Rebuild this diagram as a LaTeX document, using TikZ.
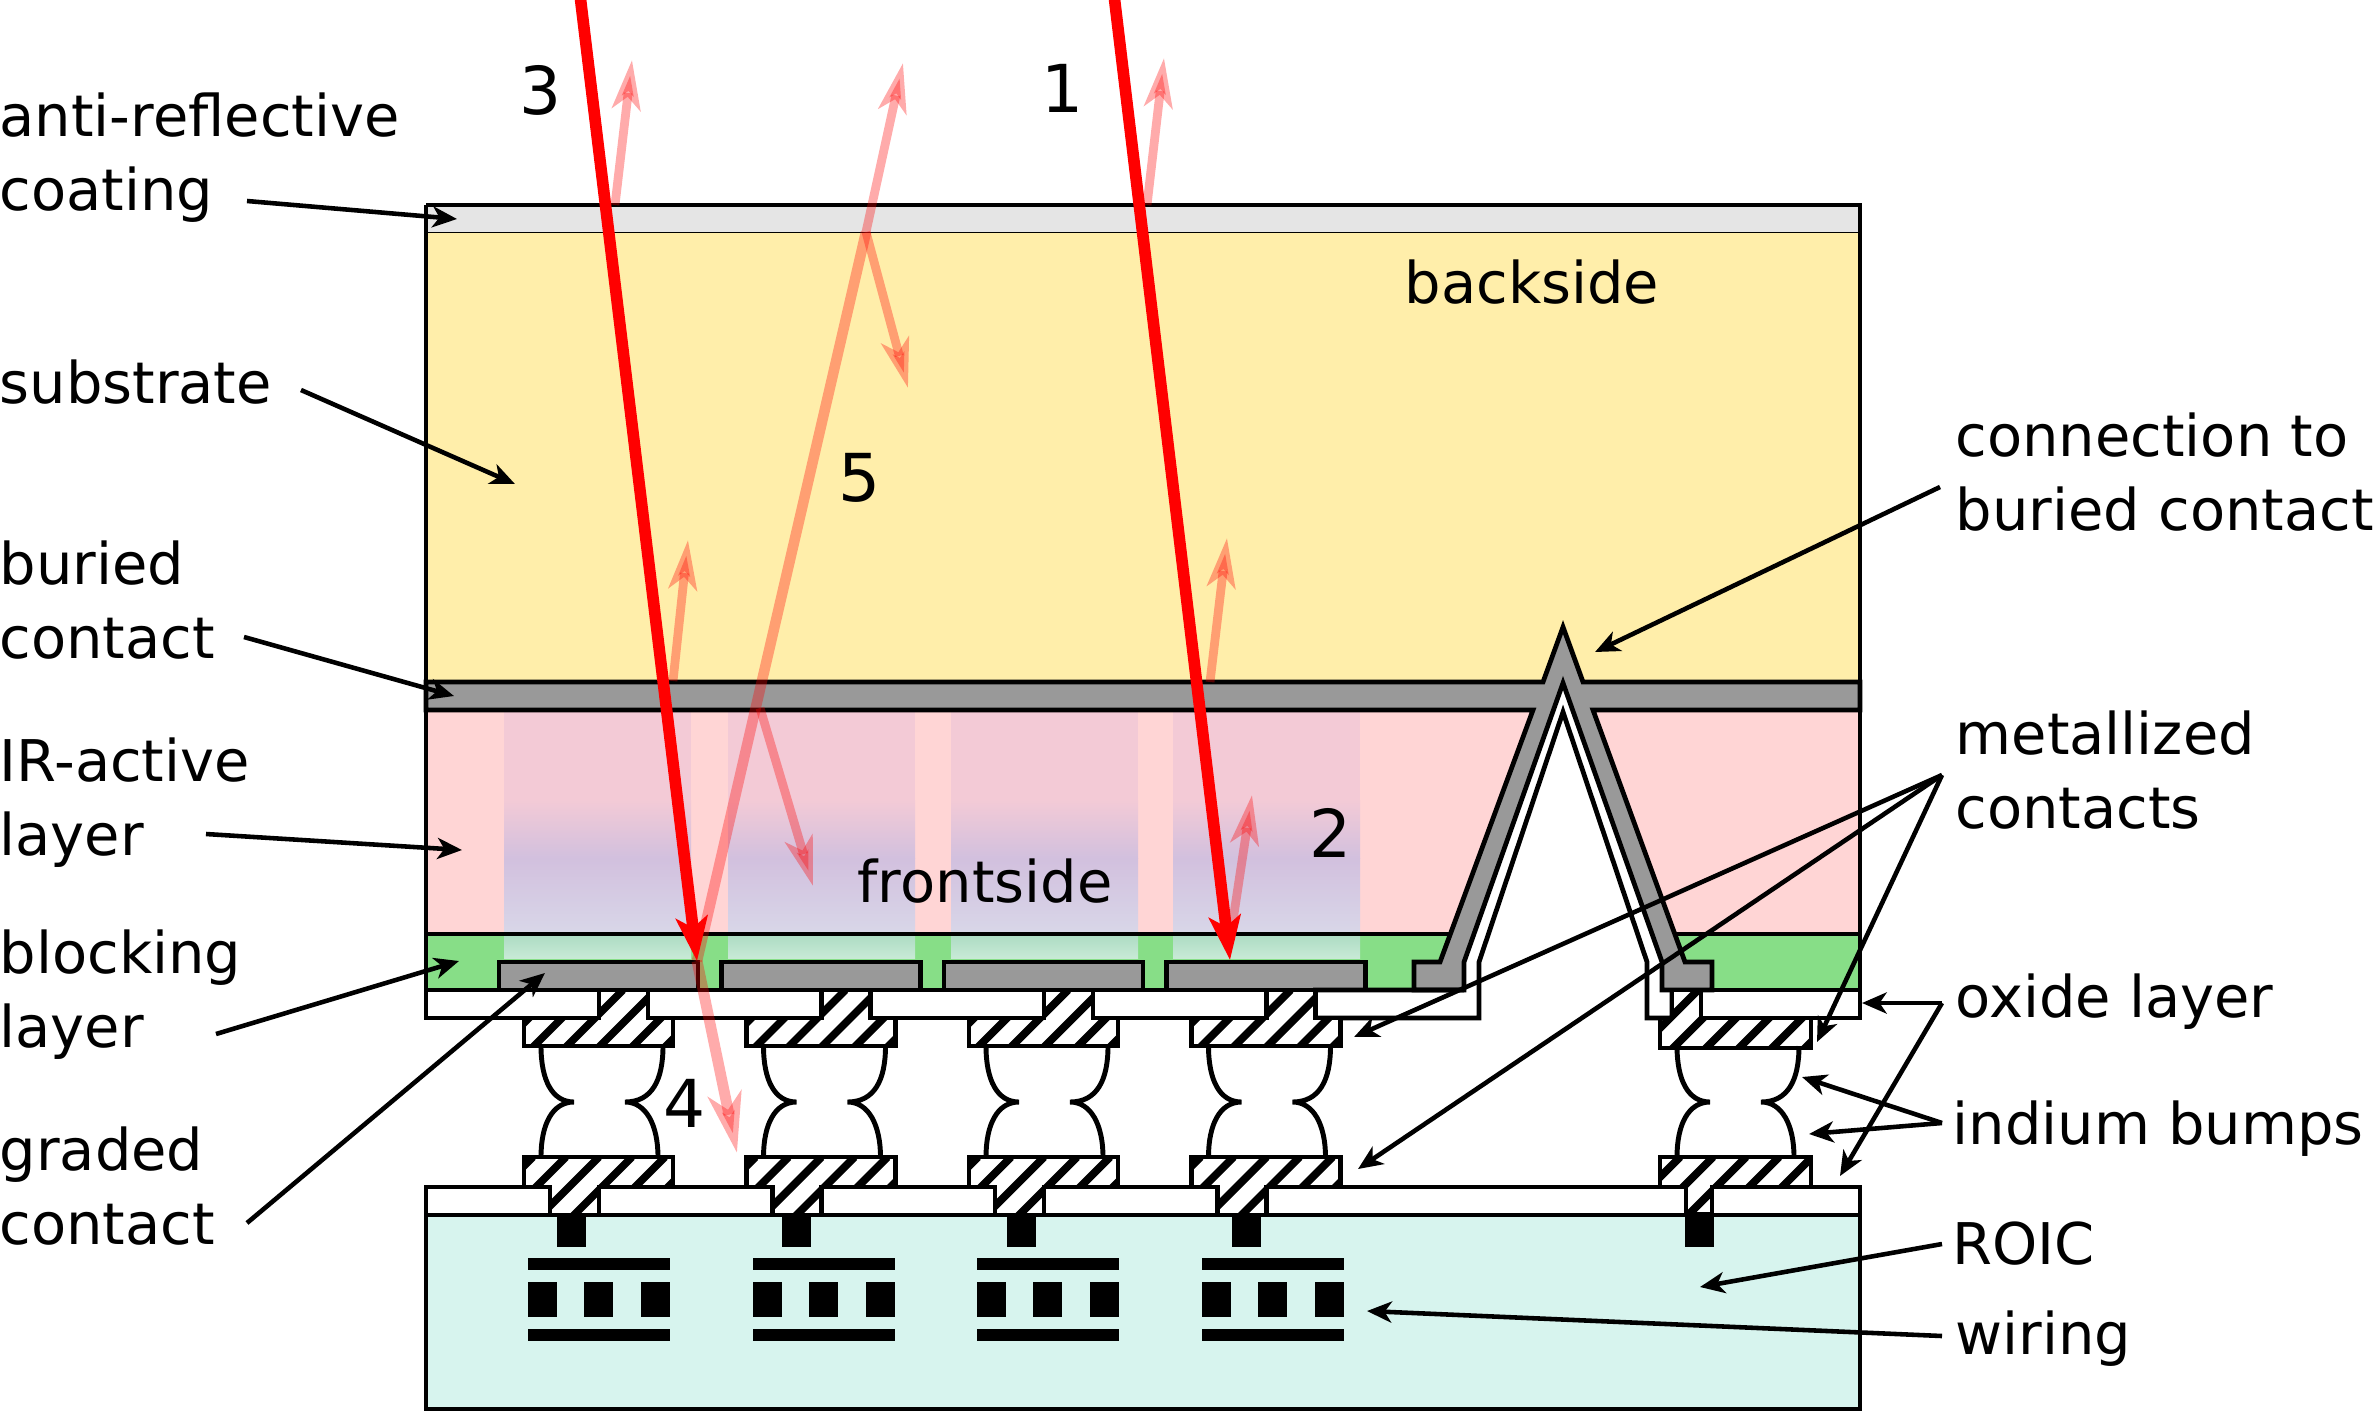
\documentclass[tikz,border=0pt]{standalone}
\usepackage{fontspec}
\setmainfont{DejaVu Sans}
\usetikzlibrary{arrows.meta}
\definecolor{coatgray}{HTML}{E5E5E5}
\definecolor{substrateyellow}{HTML}{FFEEAA}
\definecolor{metalgray}{HTML}{999999}
\definecolor{activepink}{HTML}{FFD5D5}
\definecolor{blockgreen}{HTML}{87DE87}
\definecolor{roiccyan}{HTML}{D7F4EE}
\definecolor{colI}{HTML}{F3CAD6}
\definecolor{colII}{HTML}{D2C0DE}
\definecolor{colIII}{HTML}{D8D6E8}
\definecolor{colIV}{HTML}{AEDCC4}
\definecolor{colV}{HTML}{C8EAD6}
\tikzset{
	lbl/.style={anchor=base west,inner sep=0pt,align=left,font=\fontsize{16.35}{20.8}\selectfont},
	num/.style={anchor=base,inner sep=0pt,font=\fontsize{18.8}{20}\selectfont},
	outline/.style={draw=black,line width=1.35pt,line join=miter},
	ptr/.style={-{Stealth[length=7pt,width=6pt,inset=2pt]},line width=1.3pt},
	ray/.style={red,line width=3.3pt,-{Stealth[length=12.5pt,width=9pt,inset=3pt]}},
	faint/.style={red,opacity=.33,line width=2.5pt,-{Stealth[length=14pt,width=8pt,inset=3.5pt]}},
	faintbig/.style={red,opacity=.33,line width=3.1pt,-{Stealth[length=17pt,width=9.5pt,inset=4.5pt]}}
}
\newcommand{\hatchT}[3]{% x of the stripes, top of the stripes, outline
	\fill[white] #3;
	\begin{scope}
	\clip #3;
	\foreach \k in {0,...,9}
		\draw[line width=2.2pt] (#1+33*\k,#2) -- ++(-140,140);
	\end{scope}
	\draw[outline] #3;
}
\begin{document}
\begin{tikzpicture}[x=0.01cm,y=-0.01cm]
\useasboundingbox (0,0) rectangle (2373,1412);
% layers
\fill[coatgray] (426,205) rectangle (1860,232);
\fill[substrateyellow] (426,232) rectangle (1860,682);
\fill[activepink] (426,710) rectangle (1860,934);
\fill[blockgreen] (426,934) rectangle (1860,990);
\fill[roiccyan] (426,1215) rectangle (1860,1409);
\foreach \x in {504,728,951,1173}{
	\fill[colI] (\x,712) rectangle (\x+187,800);
	\shade[top color=colI,bottom color=colII] (\x,800) rectangle (\x+187,858);
	\shade[top color=colII,bottom color=colIII] (\x,858) rectangle (\x+187,932);
	\shade[top color=colIV,bottom color=colV] (\x,936) rectangle (\x+187,958);
}
% cut under the spike
\fill[white] (1563,683) -- (1464,962) -- (1464,990) -- (1662,990) -- (1662,962) -- cycle;
\draw[outline] (426,934) -- (1452,934) (1674,934) -- (1860,934);
% buried contact with the connection and its pads
\draw[outline,fill=metalgray] (426,682) -- (1543,682) -- (1563,627) -- (1583,682) -- (1860,682)
	-- (1860,710) -- (1593,710) -- (1685,962) -- (1712,962) -- (1712,990) -- (1662,990)
	-- (1662,962) -- (1563,683) -- (1464,962) -- (1464,990) -- (1414,990) -- (1414,962)
	-- (1440,962) -- (1533,710) -- (426,710) -- cycle;
\foreach \x in {499,721.5,944,1166.5}
	\draw[outline,fill=metalgray] (\x,990) -- (\x,962) -- (\x+199,962) -- (\x+199,990);
% upper oxide
\draw[outline] (426,990) rectangle (599,1018);
\draw[outline] (648,990) rectangle (821.5,1018);
\draw[outline] (870.5,990) rectangle (1044,1018);
\draw[outline] (1093,990) rectangle (1266.5,1018);
\draw[outline] (1464,990) -- (1315.5,990) -- (1315.5,1018) -- (1479,1018) -- (1479,962)
	-- (1563,712) -- (1647,962) -- (1647,1018) -- (1672,1018) -- (1672,990);
\draw[outline] (1701,990) rectangle (1860,1018);
% outer frame
\draw[outline] (426,205) -- (1860,205) -- (1860,1018) (426,1018) -- (426,205);
\draw[black,line width=0.5pt] (426,232.5) -- (1860,232.5);
% lower oxide and ROIC
\draw[outline] (426,1187) rectangle (1860,1215);
\draw[outline] (426,1215) rectangle (1860,1409);
% metal
\foreach \x in {0,1,2,3}{
	\hatchT{524+222.5*\x}{990}{(524+222.5*\x,1018) -- (599+222.5*\x,1018) -- (599+222.5*\x,990) -- (648+222.5*\x,990) -- (648+222.5*\x,1018) -- (673+222.5*\x,1018) -- (673+222.5*\x,1046) -- (524+222.5*\x,1046) -- cycle}
	\hatchT{533+222.5*\x}{1157}{(524+222.5*\x,1157) -- (673+222.5*\x,1157) -- (673+222.5*\x,1187) -- (599+222.5*\x,1187) -- (599+222.5*\x,1215) -- (550+222.5*\x,1215) -- (550+222.5*\x,1187) -- (524+222.5*\x,1187) -- cycle}
	\fill (557+225*\x,1215) rectangle (586+225*\x,1247);
	\fill (528+224.5*\x,1258) rectangle (670+224.5*\x,1270);
	\fill (528+224.5*\x,1329) rectangle (670+224.5*\x,1341);
	\fill (528+224.5*\x,1282) rectangle (557+224.5*\x,1317);
	\fill (584+224.5*\x,1282) rectangle (613+224.5*\x,1317);
	\fill (641+224.5*\x,1282) rectangle (670+224.5*\x,1317);
}
\hatchT{1665}{990}{(1660,1018) -- (1672,1018) -- (1672,990) -- (1701,990) -- (1701,1018) -- (1811,1018) -- (1811,1048) -- (1660,1048) -- cycle}
\hatchT{1680}{1157}{(1660,1157) -- (1811,1157) -- (1811,1187) -- (1712,1187) -- (1712,1214) -- (1686,1214) -- (1686,1187) -- (1660,1187) -- cycle}
\fill (1685,1214) rectangle (1714,1247);
% indium bumps
\foreach \x in {524,746.5,969,1191.5,1660}
	\draw[line width=1.4pt] (\x+17,1046) .. controls (\x+17,1080) and (\x+28,1102) .. (\x+50,1102)
		.. controls (\x+28,1102) and (\x+17,1125) .. (\x+17,1157)
		(\x+139,1046) .. controls (\x+139,1080) and (\x+128,1102) .. (\x+101,1102)
		.. controls (\x+122,1102) and (\x+134,1125) .. (\x+134,1157);
% light rays
\coordinate (hitA) at (1230,960);
\coordinate (hitB) at (697,961);
\coordinate (hitC) at (866,232);
\draw[faint] (615,205) -- (632,60);
\draw[faint] (1147,205) -- (1164,58);
\draw[faint] (673,681) -- (688,540);
\draw[faint] (1210,682) -- (1227,538);
\draw[faint] (hitC) -- (908,388);
\draw[faint] (760,708) -- (813,886);
\draw[faint] (1230,940) -- (1252,795);
\draw[faint,line width=3pt,-] (hitB) -- (hitC);
\draw[faint] (hitC) -- (903,63);
\draw[faintbig] (hitB) -- (737,1153);
\draw[ray] (580,-5) -- (hitB);
\draw[ray] (1114,-5) -- (hitA);
% labels
\node[lbl] (coating) at (-1,210) {anti-reflective\\coating};
\node[lbl] (substrate) at (-1,403) {substrate};
\node[lbl] (buried) at (-1,658) {buried\\contact};
\node[lbl] (active) at (-1,855) {IR-active\\layer};
\node[lbl] (blocking) at (-1,1047) {blocking\\layer};
\node[lbl] (graded) at (-1,1244) {graded\\contact};
\node[lbl] (connection) at (1955,530) {connection to\\buried contact};
\node[lbl] (metallized) at (1955,828) {metallized\\contacts};
\node[lbl] (oxide) at (1955,1017) {oxide layer};
\node[lbl] (indium) at (1952,1144) {indium bumps};
\node[lbl] (roic) at (1952,1264) {ROIC};
\node[lbl] (wiring) at (1955,1354) {wiring};
\node[lbl] (backside) at (1404,303) {backside};
\node[lbl] (frontside) at (857,902) {frontside};
\node[num] (rayone) at (1063,112) {1};
\node[num] (raytwo) at (1331,857) {2};
\node[num] (raythree) at (541,114) {3};
\node[num] (rayfour) at (685,1127) {4};
\node[num] (rayfive) at (860,501) {5};
% label arrows
\coordinate (metalfrom) at (1942,775);
\coordinate (oxidefrom) at (1942,1003);
\coordinate (indiumfrom) at (1942,1123);
\draw[ptr] (247,201) coordinate (c1) -- (457,219) coordinate (c2);
\draw[ptr] (301,390) coordinate (s1) -- (515,484) coordinate (s2);
\draw[ptr] (244,637) coordinate (b1) -- (454,696) coordinate (b2);
\draw[ptr] (206,834) coordinate (a1) -- (462,850) coordinate (a2);
\draw[ptr] (216,1034) coordinate (l1) -- (459,961) coordinate (l2);
\draw[ptr] (247,1223) coordinate (g1) -- (545,973) coordinate (g2);
\draw[ptr] (1940,487) coordinate (n1) -- (1595,652) coordinate (n2);
\draw[ptr] (metalfrom) -- (1354,1037);
\draw[ptr] (metalfrom) -- (1358,1169);
\draw[ptr] (metalfrom) -- (1817,1042);
\draw[ptr] (oxidefrom) -- (1862,1003);
\draw[ptr] (oxidefrom) -- (1840,1176);
\draw[ptr] (indiumfrom) -- (1802,1077);
\draw[ptr] (indiumfrom) -- (1809,1134);
\draw[ptr] (1942,1244) coordinate (r1) -- (1700,1287) coordinate (r2);
\draw[ptr] (1942,1336) coordinate (w1) -- (1367,1311) coordinate (w2);
\end{tikzpicture}
\end{document}
